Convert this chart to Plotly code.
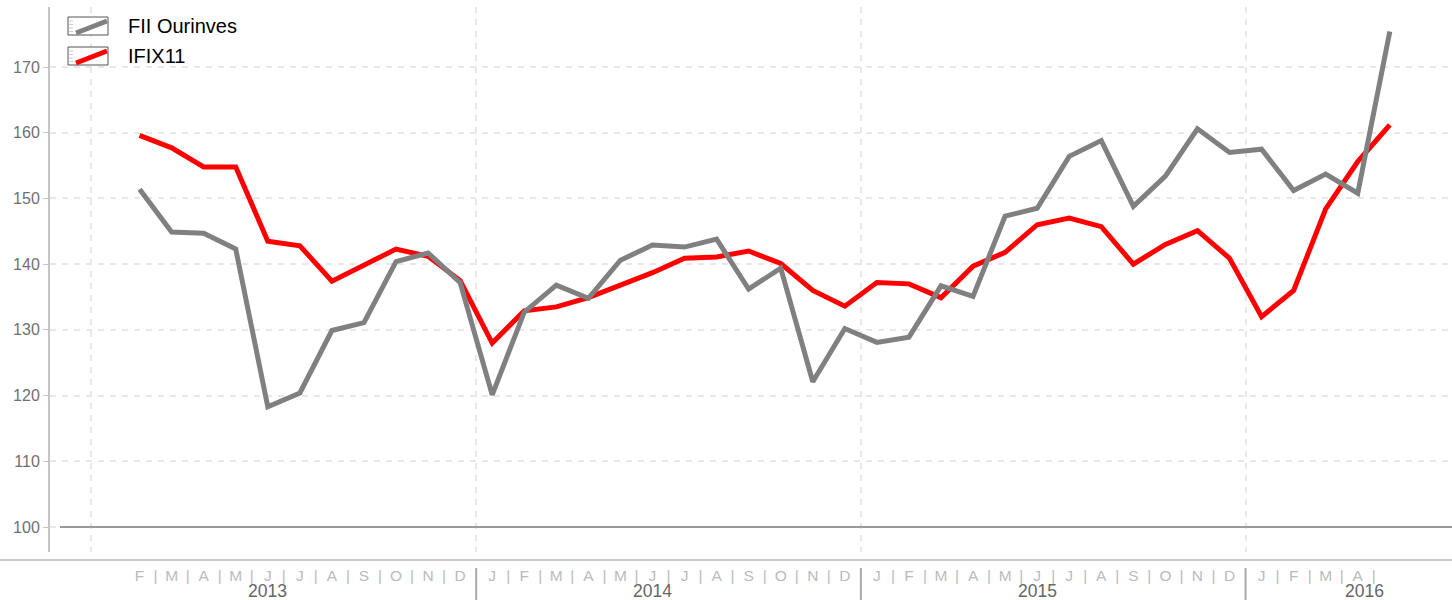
import plotly.graph_objects as go

# ---------------- data ----------------
month_keys = ["2013-02", "2013-03", "2013-04", "2013-05", "2013-06", "2013-07", "2013-08",
              "2013-09", "2013-10", "2013-11", "2013-12",
              "2014-01", "2014-02", "2014-03", "2014-04", "2014-05", "2014-06", "2014-07",
              "2014-08", "2014-09", "2014-10", "2014-11", "2014-12",
              "2015-01", "2015-02", "2015-03", "2015-04", "2015-05", "2015-06", "2015-07",
              "2015-08", "2015-09", "2015-10", "2015-11", "2015-12",
              "2016-01", "2016-02", "2016-03", "2016-04", "2016-05"]
month_letters = ["J", "F", "M", "A", "M", "J", "J", "A", "S", "O", "N", "D"]
years = ["2013", "2014", "2015", "2016"]
series_names = ["FII Ourinves", "IFIX11"]

fii = [151.4, 144.9, 144.7, 142.3, 118.3, 120.4, 129.9, 131.1, 140.4, 141.7, 137.2,
       120.1, 132.7, 136.8, 134.8, 140.6, 142.9, 142.6, 143.8, 136.2, 139.4, 122.1, 130.2,
       128.1, 128.9, 136.7, 135.1, 147.3, 148.5, 156.4, 158.8, 148.8, 153.4, 160.6, 157.0,
       157.5, 151.2, 153.7, 150.8, 175.4]
ifix = [159.6, 157.7, 154.8, 154.8, 143.5, 142.8, 137.4, 139.9, 142.3, 141.2, 137.5,
        128.0, 132.9, 133.5, 134.9, 136.8, 138.7, 140.9, 141.1, 142.0, 140.1, 136.0, 133.6,
        137.2, 137.0, 134.9, 139.7, 141.8, 146.0, 147.0, 145.7, 140.0, 143.0, 145.1, 140.9,
        132.0, 136.0, 148.4, 155.6, 161.2]
y_ticks = [100, 110, 120, 130, 140, 150, 160, 170]

# ---------------- helpers ----------------
def month_index(key):
    y, m = key.split("-")
    return (int(y) - int(years[0])) * 12 + int(m) - 1

xs = [month_index(k) for k in month_keys]

tickvals, ticktext = [], []
for x in xs[:-1]:  # last month is not labeled in the original
    tickvals.append(x)
    ticktext.append(month_letters[x % 12])
    if x % 12 != 11:
        tickvals.append(x + 0.5)
        ticktext.append("|")

FONT = "Liberation Sans, Arial, sans-serif"
W, H = 1452, 600
ML, MR, MT, MB = 50, 0, 7, 48
PW, PH = W - ML - MR, H - MT - MB

def px_x(p):
    return (p - ML) / PW

def px_y(p):
    return (H - MB - p) / PH

fig = go.Figure()
fig.add_trace(go.Scatter(x=xs, y=ifix, name=series_names[1], mode="lines",
                         line=dict(color="#ff0000", width=5), showlegend=False))
fig.add_trace(go.Scatter(x=xs, y=fii, name=series_names[0], mode="lines",
                         line=dict(color="#808080", width=5), showlegend=False))

shapes = []
# solid baseline at 100
shapes.append(dict(type="line", xref="paper", yref="y", x0=px_x(60), x1=1, y0=100, y1=100,
                   line=dict(color="#999999", width=2)))
# bottom axis line spanning whole width
shapes.append(dict(type="line", xref="paper", yref="paper", x0=px_x(0), x1=1,
                   y0=px_y(560), y1=px_y(560), line=dict(color="#cccccc", width=2)))
# year separators below the axis
for yb in [11.5, 23.5, 35.5]:
    shapes.append(dict(type="line", xref="x", yref="paper", x0=yb, x1=yb,
                       y0=px_y(568), y1=px_y(602), line=dict(color="#aaaaaa", width=2)))

annotations = []
# year labels
for yr, xpos in zip(years, [5, 17, 29, 39.2]):
    annotations.append(dict(x=xpos, y=px_y(590.5), xref="x", yref="paper", text=yr,
                            showarrow=False, xanchor="center", yanchor="middle",
                            font=dict(family=FONT, size=17.5, color="#666666")))

# custom legend
colors = ["#808080", "#ff0000"]
for i, (name, col) in enumerate(zip(series_names, colors)):
    top = 17 + 30 * i
    shapes.append(dict(type="rect", xref="paper", yref="paper",
                       x0=px_x(68), x1=px_x(108), y0=px_y(top + 18), y1=px_y(top),
                       line=dict(color="#555555", width=1), fillcolor="white"))
    for k in range(4):
        yy = top + 4 + 3.5 * k
        shapes.append(dict(type="line", xref="paper", yref="paper",
                           x0=px_x(69), x1=px_x(73), y0=px_y(yy), y1=px_y(yy),
                           line=dict(color="#cccccc", width=1)))
    shapes.append(dict(type="line", xref="paper", yref="paper",
                       x0=px_x(76), x1=px_x(107), y0=px_y(top + 16), y1=px_y(top + 4),
                       line=dict(color=col, width=5)))
    annotations.append(dict(x=px_x(126), y=px_y(top + 9), xref="paper", yref="paper",
                            text=name, showarrow=False, xanchor="left", yanchor="middle",
                            font=dict(family=FONT, size=20, color="#000000")))

fig.update_layout(
    width=W, height=H,
    margin=dict(l=ML, r=MR, t=MT, b=MB, pad=0),
    paper_bgcolor="white", plot_bgcolor="white",
    font=dict(family=FONT),
    shapes=shapes, annotations=annotations,
    xaxis=dict(range=[-1.794, 41.94], tickmode="array", tickvals=tickvals, ticktext=ticktext,
               tickfont=dict(family=FONT, size=15.5, color="#bbbbbb"), ticks="",
               ticklabelstandoff=12,
               showgrid=False, zeroline=False, showline=False,
               minor=dict(tickmode="linear", tick0=-0.5, dtick=12, showgrid=True,
                          gridcolor="#e8e8e8", gridwidth=2, griddash="6px,6px", ticks="")),
    yaxis=dict(range=[96.2, 179.13], tickmode="array", tickvals=y_ticks,
               tickfont=dict(family=FONT, size=16, color="#707070"),
               ticks="outside", ticklen=5, tickwidth=1, tickcolor="#c4c4c4",
               showgrid=True, gridcolor="#e8e8e8", gridwidth=2, griddash="6px,6px",
               showline=True, linecolor="#c4c4c4", linewidth=2, zeroline=False),
)

fig.write_html("out.html", config={"displayModeBar": False},
               post_script="document.body.style.margin='0';")
